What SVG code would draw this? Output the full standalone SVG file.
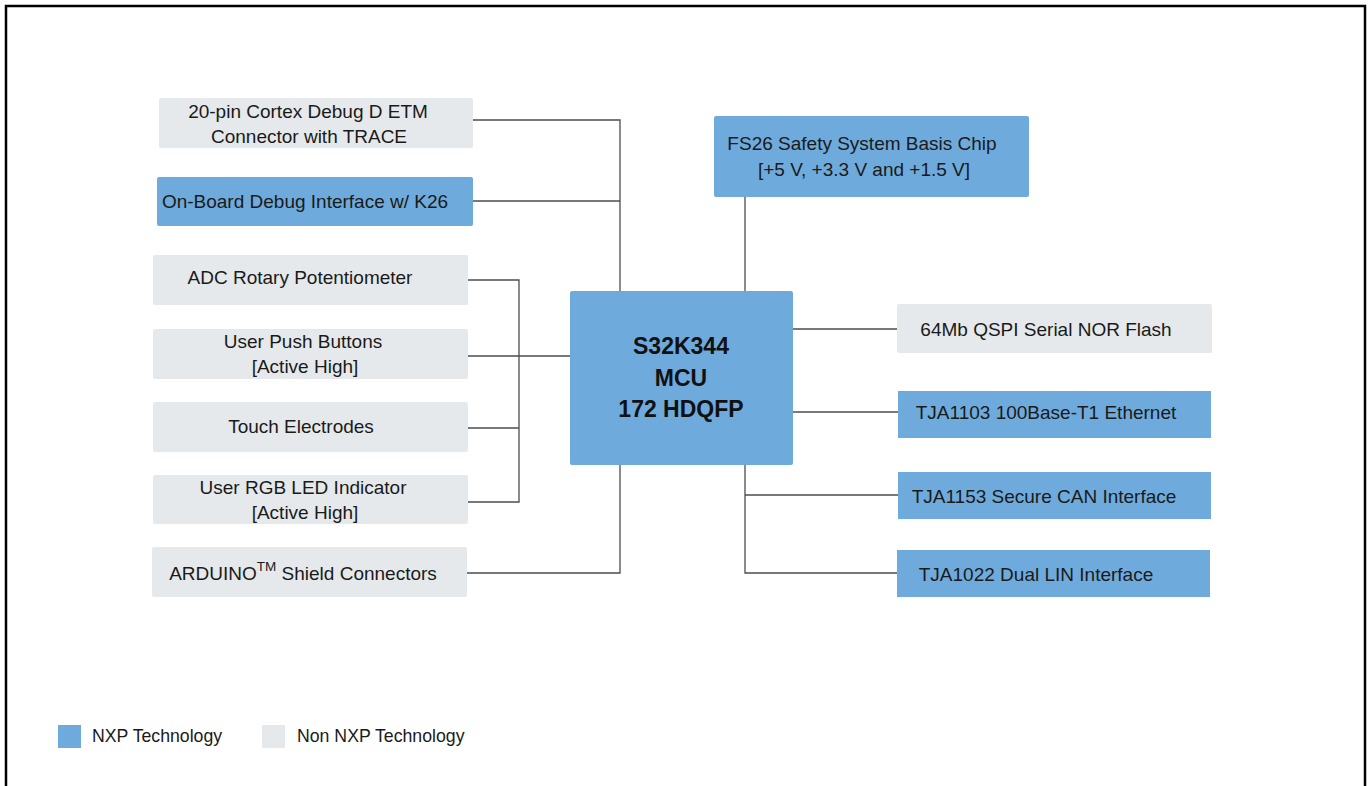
<svg xmlns="http://www.w3.org/2000/svg" width="1369" height="786" viewBox="0 0 1369 786">
<style>
.nxp{fill:#6eabdc}
.non{fill:#e5e9eb}
.t{font-family:"Liberation Sans",Arial,sans-serif;font-size:19px;fill:#1a1a1a;text-anchor:middle}
.b{font-family:"Liberation Sans",Arial,sans-serif;font-size:23px;font-weight:bold;fill:#111;text-anchor:middle}
.lg{font-family:"Liberation Sans",Arial,sans-serif;font-size:17.7px;fill:#1a1a1a}
.c{stroke:#4d4d4d;stroke-width:1.3;fill:none}
</style>
<rect x="0" y="0" width="1369" height="786" fill="#fff"/>
<path d="M6,786 V6 H1365 V786" fill="none" stroke="#000" stroke-width="2.5"/>
<g id="connectors">
<path class="c" d="M473,120 H620 V291"/>
<path class="c" d="M473,201 H620"/>
<path class="c" d="M620,465 V573 H467"/>
<path class="c" d="M468,280 H519 V502 H468"/>
<path class="c" d="M468,356 H570"/>
<path class="c" d="M468,428 H519"/>
<path class="c" d="M745,197 V291"/>
<path class="c" d="M793,329 H897"/>
<path class="c" d="M793,412 H898"/>
<path class="c" d="M745,465 V573 H897"/>
<path class="c" d="M745,495 H898"/>
</g>
<g id="cortex-debug"><rect class="non" x="159" y="98" width="314" height="50" rx="2"/><text class="t" x="308" y="118">20-pin Cortex Debug D ETM</text><text class="t" x="309" y="143">Connector with TRACE</text></g>
<g id="onboard-debug"><rect class="nxp" x="157" y="177" width="316" height="49" rx="2"/><text class="t" x="305" y="208">On-Board Debug Interface w/ K26</text></g>
<g id="adc"><rect class="non" x="153" y="255" width="315" height="50" rx="2"/><text class="t" x="300" y="284">ADC Rotary Potentiometer</text></g>
<g id="push-buttons"><rect class="non" x="153" y="329" width="315" height="50" rx="2"/><text class="t" x="303" y="348">User Push Buttons</text><text class="t" x="305" y="373">[Active High]</text></g>
<g id="touch"><rect class="non" x="153" y="402" width="315" height="50" rx="2"/><text class="t" x="301" y="433">Touch Electrodes</text></g>
<g id="rgb-led"><rect class="non" x="153" y="475" width="315" height="49" rx="2"/><text class="t" x="303" y="494">User RGB LED Indicator</text><text class="t" x="305" y="519">[Active High]</text></g>
<g id="arduino"><rect class="non" x="152" y="547" width="315" height="50" rx="2"/><text class="t" x="303" y="580">ARDUINO<tspan font-size="13.5" dy="-9">TM</tspan><tspan dy="9"> Shield Connectors</tspan></text></g>
<g id="mcu"><rect class="nxp" x="570" y="291" width="223" height="174" rx="2"/><text class="b" x="681" y="354">S32K344</text><text class="b" x="681" y="386">MCU</text><text class="b" x="681" y="417">172 HDQFP</text></g>
<g id="fs26"><rect class="nxp" x="714" y="116" width="315" height="81" rx="2"/><text class="t" x="862" y="150">FS26 Safety System Basis Chip</text><text class="t" x="864" y="176">[+5 V, +3.3 V and +1.5 V]</text></g>
<g id="qspi"><rect class="non" x="897" y="304" width="315" height="49" rx="2"/><text class="t" x="1046" y="336">64Mb QSPI Serial NOR Flash</text></g>
<g id="ethernet"><rect class="nxp" x="898" y="391" width="313" height="47"/><text class="t" x="1046" y="419">TJA1103 100Base-T1 Ethernet</text></g>
<g id="can"><rect class="nxp" x="898" y="472" width="313" height="47"/><text class="t" x="1044" y="503">TJA1153 Secure CAN Interface</text></g>
<g id="lin"><rect class="nxp" x="897" y="550" width="313" height="47"/><text class="t" x="1036" y="581">TJA1022 Dual LIN Interface</text></g>
<g id="legend">
<rect class="nxp" x="58" y="725" width="23" height="23"/><text class="lg" x="92" y="742">NXP Technology</text>
<rect class="non" x="262" y="725" width="23" height="23"/><text class="lg" x="297" y="742">Non NXP Technology</text>
</g>
</svg>
